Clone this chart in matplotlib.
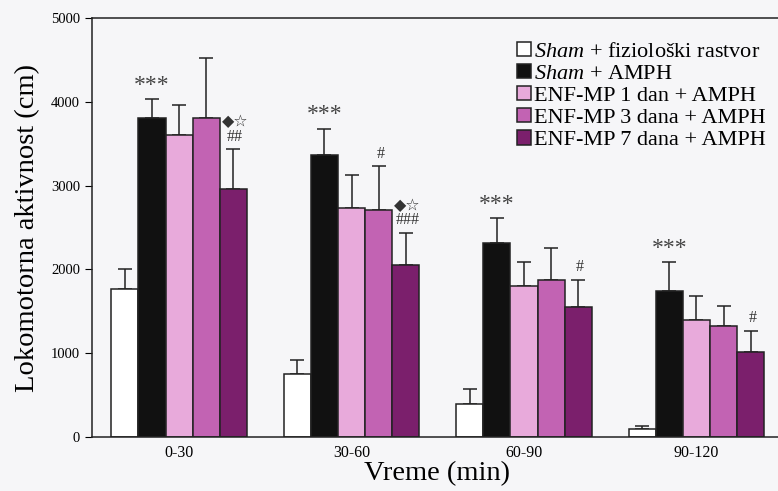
import numpy as np
import matplotlib
matplotlib.use('Agg')
import matplotlib.pyplot as plt

plt.rcParams['font.family'] = ['Liberation Serif', 'DejaVu Serif', 'DejaVu Sans']
plt.rcParams['mathtext.fontset'] = 'custom'
plt.rcParams['mathtext.it'] = 'Liberation Serif:italic'
plt.rcParams['mathtext.rm'] = 'Liberation Serif'

groups = ['0-30', '30-60', '60-90', '90-120']
labels = [r'$\it{Sham}$ + fiziološki rastvor', r'$\it{Sham}$ + AMPH',
          'ENF-MP 1 dan + AMPH', 'ENF-MP 3 dana + AMPH', 'ENF-MP 7 dana + AMPH']
colors = ['white', '#111111', '#e8aadb', '#c263b3', '#7b1f6c']

# mean values per series (one value per time group)
sham_fr = [1770, 750, 390, 100]
sham_amph = [3810, 3370, 2310, 1740]
enf1 = [3600, 2730, 1800, 1400]
enf3 = [3810, 2710, 1880, 1320]
enf7 = [2960, 2050, 1550, 1020]
# error bars (SEM)
err_sham_fr = [230, 165, 180, 30]
err_sham_amph = [220, 310, 300, 350]
err_enf1 = [360, 400, 290, 280]
err_enf3 = [720, 520, 380, 240]
err_enf7 = [480, 390, 330, 250]

means = [sham_fr, sham_amph, enf1, enf3, enf7]
errs = [err_sham_fr, err_sham_amph, err_enf1, err_enf3, err_enf7]

# significance marks: (series index, group index, text)
marks = [(1, 0, '***'), (1, 1, '***'), (1, 2, '***'), (1, 3, '***'),
         (4, 0, '◆☆\n##'), (3, 1, '#'), (4, 1, '◆☆\n###'),
         (4, 2, '#'), (4, 3, '#')]

fig = plt.figure(figsize=(7.78, 4.91), dpi=100)
fig.patch.set_facecolor('#f6f6f8')
ax = fig.add_axes([0.118, 0.110, 0.888, 0.853])
ax.set_facecolor('#f6f6f8')

x = np.arange(len(groups))
w = 0.157
for i in range(5):
    pos = x + (i - 2) * w
    ax.bar(pos, means[i], w, color=colors[i], edgecolor='#222222',
           linewidth=1.1, label=labels[i], zorder=2)
    ax.errorbar(pos, means[i], yerr=[np.zeros(4), errs[i]], fmt='none',
                ecolor='#222222', elinewidth=1.1, capsize=5, capthick=1.1,
                zorder=1)

for i, g, t in marks:
    top = means[i][g] + errs[i][g]
    xp = x[g] + (i - 2) * w
    if t == '***':
        ax.text(xp, top + 40, t, ha='center', va='bottom', fontsize=17,
                color='#444444', linespacing=0.9)
    else:
        ax.text(xp + 0.01, top + 50, t, ha='center', va='bottom', fontsize=11.5,
                color='#333333', linespacing=0.85)

ax.set_xlim(-0.506, 3.5)
ax.set_ylim(0, 5000)
ax.set_yticks([0, 1000, 2000, 3000, 4000, 5000])
ax.tick_params(axis='y', labelsize=10.5, length=5, direction='out')
ax.set_xticks(x)
ax.set_xticklabels(groups, fontsize=11.5)
ax.tick_params(axis='x', length=0, pad=6)
for s in ax.spines.values():
    s.set_linewidth(1.1)
    s.set_color('#222222')

ax.set_ylabel('Lokomotorna aktivnost (cm)', fontsize=20.5, labelpad=8)
ax.set_xlabel('Vreme (min)', fontsize=20.5, labelpad=0)

ax.legend(loc='upper right', bbox_to_anchor=(0.995, 0.975), fontsize=16,
          frameon=False, handlelength=0.6, handleheight=0.6,
          handletextpad=0.15, labelspacing=0.1, borderaxespad=0.2)

plt.savefig('out.png', dpi=100, facecolor=fig.get_facecolor())
